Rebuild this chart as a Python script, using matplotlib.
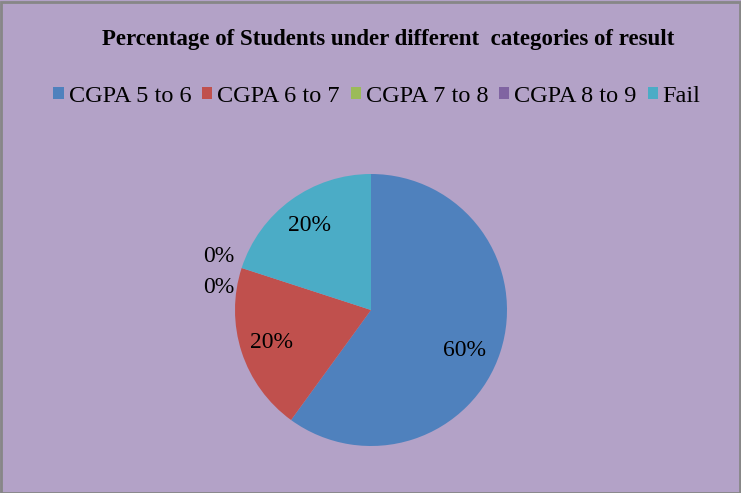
import matplotlib.pyplot as plt
from matplotlib.patches import Rectangle

categories = ["CGPA 5 to 6", "CGPA 6 to 7", "CGPA 7 to 8", "CGPA 8 to 9", "Fail"]
shares = [60, 20, 0, 0, 20]
colors = ["#4F81BD", "#C0504D", "#9BBB59", "#8064A2", "#4BACC6"]
title = "Percentage of Students under different  categories of result"

plt.rcParams["font.family"] = ["Liberation Serif", "DejaVu Serif"]

W, H = 741, 493
fig = plt.figure(figsize=(W / 100, H / 100), dpi=100)
fig.patch.set_facecolor("#B3A2C7")

# outer border
fig.patches.append(Rectangle((0.5 / W, 0.5 / H), 1 - 2 / W, 1 - 2 / H,
                             transform=fig.transFigure, fill=False,
                             edgecolor="#878787", linewidth=2))

# pie centre (371, 310) px, radius 136 px
cx, cy, r = 371, H - 310, 136
ax = fig.add_axes([(cx - r) / W, (cy - r) / H, 2 * r / W, 2 * r / H])
ax.set_facecolor("none")

wedges, texts, autotexts = ax.pie(
    shares, colors=colors, startangle=90, counterclock=False,
    autopct="%1.0f%%", pctdistance=0.77, radius=1,
    textprops={"fontsize": 17, "color": "black"},
    wedgeprops={"linewidth": 0},
)
ax.set_xlim(-1, 1)
ax.set_ylim(-1, 1)
ax.axis("off")

# zero-share labels sit outside the pie, stacked
zero_pos = [(-1.118, 0.397), (-1.118, 0.169)]
k = 0
for val, t in zip(shares, autotexts):
    if val == 0:
        t.set_position(zero_pos[k])
        k += 1
    elif val == 60:
        t.set_position((0.69, -0.30))

fig.text(388 / W, 1 - 40 / H, title, ha="center", va="center",
         fontsize=16.5, fontweight="bold")

fig.legend(wedges, categories, loc="center", bbox_to_anchor=(377 / W, 1 - 96 / H),
           ncol=5, frameon=False, fontsize=17.5, handlelength=0.42, handleheight=0.42,
           handletextpad=0.2, columnspacing=0.45)

fig.savefig("out.png", dpi=100, facecolor=fig.get_facecolor())
